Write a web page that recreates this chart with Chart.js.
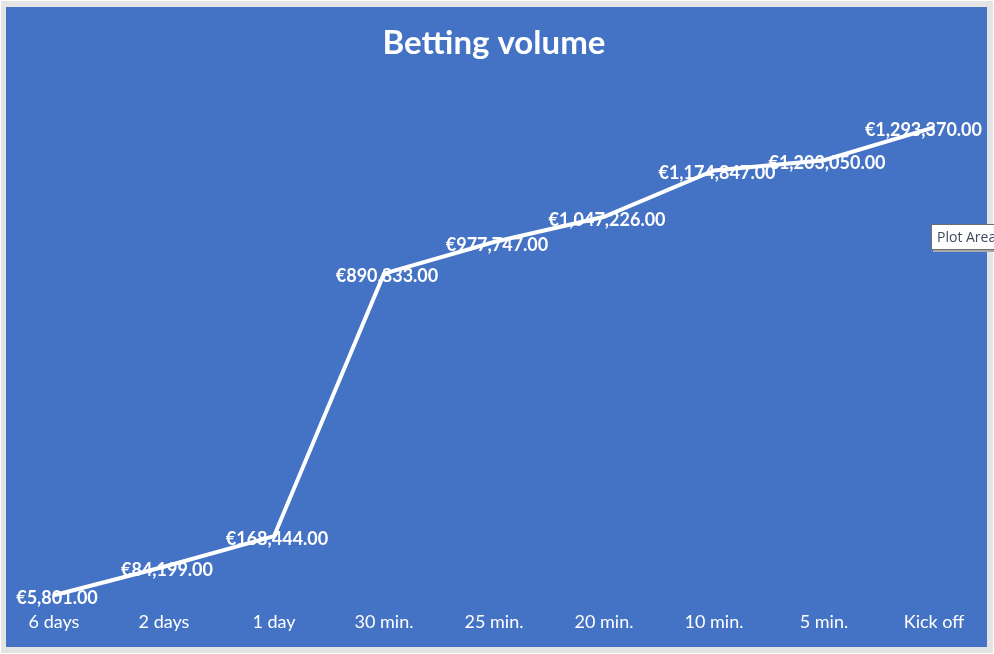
<!DOCTYPE html>
<html>
<head>
<meta charset="utf-8">
<script src="https://cdn.jsdelivr.net/npm/chart.js@4/dist/chart.umd.min.js"></script>
<style>
  html, body { margin: 0; padding: 0; }
  body { width: 994px; height: 654px; background: #e4e4e4; position: relative; overflow: hidden; font-family: Lato, "Open Sans", sans-serif; }
  #frame { position: absolute; left: 0; top: 0; width: 992px; height: 652px; border: 1px solid #ffffff; }
  #panel { position: absolute; left: 6px; top: 7px; width: 981px; height: 640px; background: #4472C4; }
  #panel canvas { display: block; }
  #tip { position: absolute; left: 931px; top: 224px; padding: 2px 5px 3px 5px; background: #ffffff; border: 1px solid #6d6d6d; color: #3c4a5e; font: 14px "Open Sans", "Noto Sans", sans-serif; white-space: nowrap; box-shadow: 2px 2px 0 #a8a8a8; }
</style>
</head>
<body>
<div id="frame"></div>
<div id="panel"><canvas id="chart" width="981" height="640"></canvas></div>
<div id="tip">Plot Area</div>
<script>
// Time before kick-off and cumulative betting volume (EUR)
const categories = ['6 days', '2 days', '1 day', '30 min.', '25 min.', '20 min.', '10 min.', '5 min.', 'Kick off'];
const volume = [5801, 84199, 168444, 890833, 977747, 1047226, 1174847, 1203050, 1293370];
const axisMin = 0;
const axisMax = 1400000;

const euro = v => '€' + v.toLocaleString('en-US', { minimumFractionDigits: 2, maximumFractionDigits: 2 });

// Writes each point's value centred on the point, kept inside the canvas
const valueLabels = {
  id: 'valueLabels',
  afterDatasetsDraw(chart) {
    const ctx = chart.ctx;
    const meta = chart.getDatasetMeta(0);
    ctx.save();
    ctx.font = 'bold 18px Lato, "Open Sans", sans-serif';
    ctx.fillStyle = '#ffffff';
    ctx.textBaseline = 'middle';
    ctx.textAlign = 'left';
    meta.data.forEach((pt, i) => {
      const text = euro(chart.data.datasets[0].data[i]);
      const w = ctx.measureText(text).width;
      let x = pt.x + 3 - w / 2;
      const maxRight = chart.width - 5;
      if (x + w > maxRight) x = maxRight - w;
      if (x < 5) x = 5;
      ctx.fillText(text, x, pt.y + 3);
    });
    ctx.restore();
  }
};

new Chart(document.getElementById('chart'), {
  type: 'line',
  data: {
    labels: categories,
    datasets: [{
      data: volume,
      borderColor: '#ffffff',
      borderWidth: 4,
      pointRadius: 0,
      pointHoverRadius: 0,
      tension: 0,
      fill: false
    }]
  },
  options: {
    responsive: false,
    animation: false,
    events: [],
    layout: { padding: { left: 48, right: 53, top: 0, bottom: 0 } },
    plugins: {
      legend: { display: false },
      tooltip: { enabled: false },
      title: {
        display: true,
        text: 'Betting volume',
        color: '#ffffff',
        font: { family: 'Lato, "Open Sans", sans-serif', size: 33, weight: 'bold', lineHeight: 1.2 },
        padding: { top: 17, bottom: 25 }
      }
    },
    scales: {
      x: {
        offset: false,
        grid: { display: false, drawTicks: false },
        border: { display: false },
        ticks: {
          color: '#ffffff',
          font: { family: 'Lato, "Open Sans", sans-serif', size: 18 },
          padding: 14,
          maxRotation: 0,
          autoSkip: false
        }
      },
      y: {
        display: false,
        min: axisMin,
        max: axisMax
      }
    }
  },
  plugins: [valueLabels]
});
</script>
</body>
</html>
